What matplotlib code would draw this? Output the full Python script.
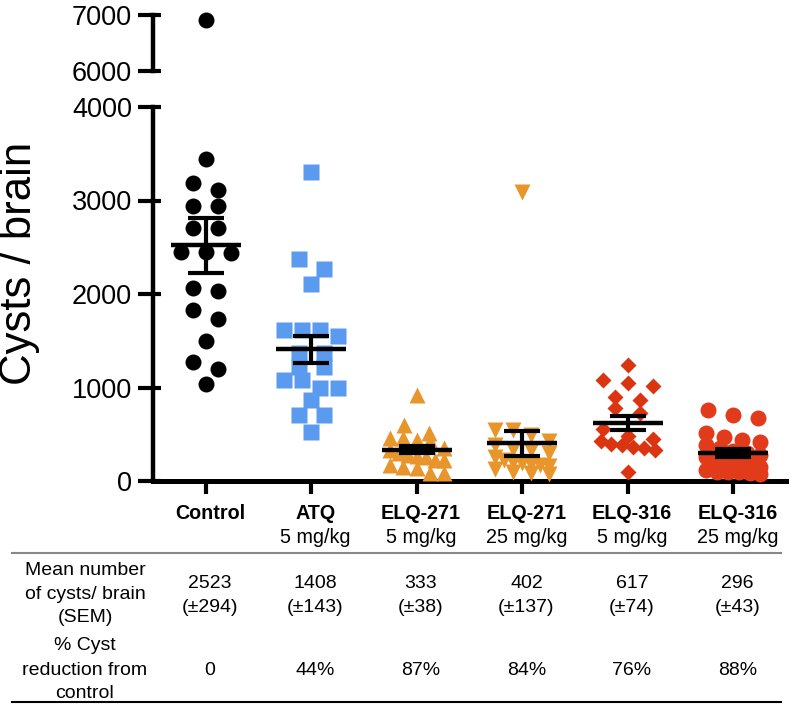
import numpy as np
import matplotlib
matplotlib.use("Agg")
import matplotlib.pyplot as plt
from matplotlib import transforms
from matplotlib.lines import Line2D

# values (cysts per brain, one per mouse)
control = [6910, 3440, 3184, 3112, 2941, 2941, 2703, 2703, 2452, 2435, 2452,
           2061, 2035, 1829, 1733, 1500, 1270, 1198, 1034]
atq = [3308, 2371, 2267, 2104, 1615, 1615, 1615, 1550, 1370, 1370, 1220, 1220,
       1080, 1080, 991, 991, 870, 706, 706, 527]
elq271_5 = [920, 599, 510, 457, 457, 439, 430, 350, 330, 300, 280, 270, 260,
            225, 225, 171, 153, 136, 82, 82]
elq271_25 = [3094, 545, 545, 492, 430, 380, 340, 330, 300, 260, 220, 200, 190,
             180, 170, 160, 130, 100, 90, 80]
elq316_5 = [1241, 1080, 1045, 1016, 900, 866, 777, 727, 560, 480, 450, 430,
            400, 385, 367, 350, 330, 100]
elq316_25 = [759, 706, 671, 510, 474, 439, 420, 380, 350, 320, 300, 280, 260,
             250, 220, 206, 206, 180, 150, 120, 100, 100, 100, 90, 80]

names = ["Control", "ATQ", "ELQ-271", "ELQ-271", "ELQ-316", "ELQ-316"]
doses = ["", "5 mg/kg", "5 mg/kg", "25 mg/kg", "5 mg/kg", "25 mg/kg"]
means = [2523, 1408, 333, 402, 617, 296]
sems = [294, 143, 38, 137, 74, 43]
reduction = ["0", "44%", "87%", "84%", "76%", "88%"]

groups = [control, atq, elq271_5, elq271_25, elq316_5, elq316_25]
markers = ["o", "s", "^", "v", "D", "o"]
msizes = [11.5, 11.5, 11, 11, 8.2, 11.5]
colors = ["black", "#5a9bef", "#e8962b", "#e8962b", "#da3510", "#e23b1c"]

plt.rcParams["font.family"] = ["Liberation Sans", "DejaVu Sans"]

W, H = 796, 705
fig = plt.figure(figsize=(W / 100, H / 100), dpi=100)
ax = fig.add_axes([153 / W, 1 - 481 / H, (786 - 153) / W, (481 - 107) / H])
axt = fig.add_axes([153 / W, 1 - 71 / H, (786 - 153) / W, (71 - 15) / H])

px_per_unit = (481 - 107) / 4000.0   # lower axis
px_per_cat = 105.0


def swarm(vals, step=25.0, half=27.0, binpx=11.0):
    # GraphPad-like rows: close values share a row, spread symmetrically
    vals = np.asarray(vals, float)
    order = np.argsort(-vals, kind="stable")
    rows = []
    for i in order:
        if rows and (vals[rows[-1][0]] - vals[i]) * px_per_unit < binpx:
            rows[-1].append(i)
        else:
            rows.append([i])
    off = np.zeros(len(vals))
    for r in rows:
        k = len(r)
        s = step if k == 1 else min(step, 2 * half / (k - 1))
        for j, idx in enumerate(r):
            off[idx] = (j - (k - 1) / 2) * s
    return off / px_per_cat


for i, vals in enumerate(groups):
    vals = np.array(vals, float)
    xs = i + swarm(vals)
    lo = vals < 5000
    ax.plot(xs[lo], vals[lo], ls="none", marker=markers[i], ms=msizes[i],
            color=colors[i], mec="none", clip_on=False, zorder=3)
    if (~lo).any():
        axt.plot(xs[~lo], vals[~lo], ls="none", marker=markers[i], ms=msizes[i],
                 color=colors[i], mec="none", clip_on=False, zorder=3)

x = np.arange(len(names))
ax.hlines(means, x - 0.33, x + 0.33, color="black", lw=3.2, zorder=5)
ax.errorbar(x, means, yerr=sems, fmt="none", ecolor="black", elinewidth=3,
            capsize=13, capthick=3, zorder=5)

for a, lim, ticks in [(ax, (0, 4000), [0, 1000, 2000, 3000, 4000]),
                      (axt, (6000, 7000), [6000, 7000])]:
    a.set_xlim(-0.5, 5.5)
    a.set_ylim(*lim)
    a.set_yticks(ticks)
    a.set_yticks(ticks, minor=True)
    a.yaxis.remove_overlapping_locs = False
    a.tick_params(axis="y", which="major", direction="out", length=11,
                  width=3, labelsize=19.5, pad=4)
    a.tick_params(axis="y", which="minor", direction="in", length=5.5, width=3)
    a.spines["top"].set_visible(False)
    a.spines["right"].set_visible(False)
    a.spines["left"].set_linewidth(3.2)
    a.patch.set_alpha(0)

axt.spines["bottom"].set_visible(False)
axt.set_xticks([])
ax.spines["bottom"].set_linewidth(3.6)
ax.set_xticks(x)
ax.set_xticklabels([])
ax.tick_params(axis="x", direction="out", length=9, width=3)

fig.text(20 / W, 1 - 263 / H, "Cysts / brain", rotation=90, fontsize=31.5,
         ha="center", va="center")

# column labels and table below the axis
bt = transforms.blended_transform_factory(ax.transData, fig.transFigure)
for i in range(len(names)):
    cx = i + 0.04
    ax.text(cx, 1 - 519 / H, names[i], transform=bt, ha="center",
            va="baseline", fontsize=14.2, fontweight="bold")
    ax.text(cx, 1 - 543 / H, doses[i], transform=bt, ha="center",
            va="baseline", fontsize=14.2)
    ax.text(cx, 1 - 588 / H, str(means[i]), transform=bt, ha="center",
            va="baseline", fontsize=14)
    ax.text(cx, 1 - 612 / H, "(\u00b1%d)" % sems[i], transform=bt,
            ha="center", va="baseline", fontsize=14)
    ax.text(cx, 1 - 675 / H, reduction[i], transform=bt, ha="center",
            va="baseline", fontsize=14)

row_lines = [("Mean number", 575), ("of cysts/ brain", 599), ("(SEM)", 622),
             ("% Cyst", 650), ("reduction from", 675), ("control", 698)]
for txt, yb in row_lines:
    fig.text(85 / W, 1 - yb / H, txt, ha="center", va="baseline",
             fontsize=14)

fig.add_artist(Line2D([12 / W, 781 / W], [1 - 553 / H] * 2, color="#888888",
                      lw=1.5))
fig.add_artist(Line2D([12 / W, 781 / W], [1 - 702 / H] * 2, color="black",
                      lw=1.5))

fig.savefig("out.png", dpi=100)
